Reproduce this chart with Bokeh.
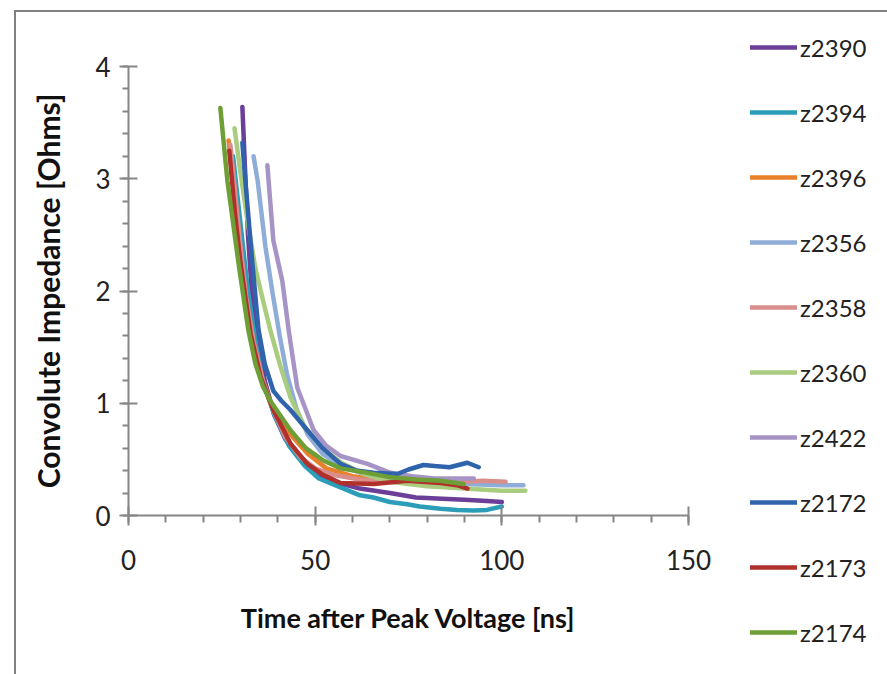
from bokeh.plotting import figure
from bokeh.models import Legend, LegendItem, SingleIntervalTicker, Range1d
from bokeh.layouts import row
from bokeh.embed import file_html
from bokeh.resources import INLINE

# ---- data ----
series_names = ["z2390", "z2394", "z2396", "z2356", "z2358",
                "z2360", "z2422", "z2172", "z2173", "z2174"]
series_colors = ["#6B3E98", "#2B9DB8", "#E8802C", "#8FADD9", "#D98E8C",
                 "#A9CC7E", "#A794C6", "#2F63AC", "#B0302C", "#6E9E36"]

x_z2390 = [30.5, 31.2, 32.0, 33.0, 34.5, 36.5, 39.0, 42.0, 46.0, 50.0, 55.0, 62.0, 70.0, 77.0, 84.0, 90.0, 96.0, 100.0]
y_z2390 = [3.64, 3.10, 2.50, 2.00, 1.60, 1.20, 0.90, 0.68, 0.50, 0.38, 0.30, 0.24, 0.20, 0.16, 0.15, 0.14, 0.13, 0.12]

x_z2394 = [28.0, 30.0, 32.0, 34.0, 36.0, 39.0, 43.0, 47.0, 51.0, 56.8, 62.0, 65.6, 70.0, 74.7, 78.0, 83.6, 88.0, 92.4, 96.0, 100.0]
y_z2394 = [3.20, 2.60, 2.00, 1.55, 1.20, 0.90, 0.62, 0.45, 0.33, 0.25, 0.18, 0.16, 0.12, 0.10, 0.08, 0.06, 0.05, 0.045, 0.05, 0.08]

x_z2396 = [26.8, 28.0, 29.5, 31.0, 33.0, 35.5, 38.0, 41.0, 44.0, 48.0, 53.0, 60.0, 70.0, 80.0, 90.0]
y_z2396 = [3.34, 3.00, 2.50, 2.00, 1.60, 1.25, 1.00, 0.82, 0.70, 0.55, 0.42, 0.35, 0.31, 0.30, 0.29]

x_z2356 = [33.5, 34.6, 36.7, 38.5, 40.5, 42.5, 45.0, 48.0, 52.0, 57.0, 63.0, 70.0, 80.0, 90.0, 100.0, 105.8]
y_z2356 = [3.20, 2.98, 2.39, 2.00, 1.60, 1.25, 0.95, 0.72, 0.55, 0.44, 0.37, 0.32, 0.29, 0.28, 0.27, 0.27]

x_z2358 = [27.3, 28.5, 30.0, 31.5, 33.5, 36.0, 39.0, 42.0, 46.0, 50.0, 55.0, 62.0, 70.0, 80.0, 90.0, 95.0, 101.0]
y_z2358 = [3.30, 2.90, 2.40, 1.95, 1.55, 1.20, 0.92, 0.70, 0.52, 0.42, 0.36, 0.32, 0.30, 0.29, 0.30, 0.31, 0.30]

x_z2360 = [28.4, 30.0, 32.0, 34.0, 36.0, 38.0, 40.5, 43.4, 47.0, 52.0, 57.0, 63.0, 70.0, 80.0, 90.0, 100.0, 106.3]
y_z2360 = [3.45, 3.05, 2.60, 2.20, 1.92, 1.65, 1.35, 1.05, 0.80, 0.60, 0.47, 0.37, 0.30, 0.26, 0.24, 0.22, 0.22]

x_z2422 = [37.2, 37.6, 38.8, 41.2, 42.9, 45.2, 49.6, 53.0, 56.8, 64.0, 70.2, 76.0, 82.0, 88.0, 92.5]
y_z2422 = [3.12, 2.95, 2.45, 2.09, 1.65, 1.14, 0.76, 0.62, 0.53, 0.46, 0.38, 0.35, 0.33, 0.33, 0.33]

x_z2172 = [30.5, 31.3, 33.2, 34.8, 36.5, 38.8, 41.0, 43.4, 47.9, 52.0, 56.8, 61.0, 65.6, 72.0, 75.0, 79.0, 82.0, 86.0, 90.8, 93.8]
y_z2172 = [3.32, 2.98, 2.24, 1.66, 1.35, 1.11, 1.02, 0.94, 0.76, 0.60, 0.46, 0.40, 0.38, 0.37, 0.41, 0.45, 0.44, 0.43, 0.47, 0.43]

x_z2173 = [27.0, 28.5, 30.0, 31.5, 32.7, 35.4, 38.8, 43.4, 47.9, 52.2, 56.8, 65.6, 74.7, 83.6, 88.0, 90.8]
y_z2173 = [3.25, 2.70, 2.25, 1.90, 1.62, 1.23, 0.94, 0.64, 0.46, 0.36, 0.29, 0.28, 0.31, 0.29, 0.27, 0.24]

x_z2174 = [24.6, 26.5, 29.5, 32.1, 34.0, 36.0, 38.0, 43.4, 47.5, 52.2, 56.8, 64.0, 70.2, 77.0, 83.6, 89.7]
y_z2174 = [3.63, 2.98, 2.24, 1.65, 1.35, 1.15, 1.02, 0.76, 0.60, 0.49, 0.42, 0.38, 0.34, 0.32, 0.31, 0.28]

series_x = [x_z2390, x_z2394, x_z2396, x_z2356, x_z2358, x_z2360, x_z2422, x_z2172, x_z2173, x_z2174]
series_y = [y_z2390, y_z2394, y_z2396, y_z2356, y_z2358, y_z2360, y_z2422, y_z2172, y_z2173, y_z2174]

x_title = "Time after Peak Voltage [ns]"
y_title = "Convolute Impedance [Ohms]"

FONT = "Lato"
AXIS_COLOR = "#868686"

p = figure(frame_width=560, frame_height=449, output_backend="svg", toolbar_location=None,
           x_range=Range1d(0, 150), y_range=Range1d(0, 4),
           min_border_left=112, min_border_right=0, min_border_top=54, min_border_bottom=159)
p.outline_line_color = None
p.grid.visible = False
p.background_fill_color = "white"
p.border_fill_color = "white"

p.xaxis.ticker = SingleIntervalTicker(interval=50, num_minor_ticks=5)
p.yaxis.ticker = SingleIntervalTicker(interval=1, num_minor_ticks=5)

for ax in (p.xaxis[0], p.yaxis[0]):
    ax.axis_line_color = AXIS_COLOR
    ax.axis_line_width = 2
    ax.major_tick_line_color = AXIS_COLOR
    ax.major_tick_line_width = 2
    ax.minor_tick_line_color = AXIS_COLOR
    ax.minor_tick_line_width = 2
    ax.major_label_text_font = FONT
    ax.major_label_text_font_size = "26px"
    ax.major_label_text_color = "#222222"
    ax.axis_label_text_font = FONT
    ax.axis_label_text_font_style = "bold"
    ax.axis_label_text_color = "#111111"

p.xaxis.major_tick_in = 9
p.xaxis.major_tick_out = 10
p.xaxis.minor_tick_in = 0
p.xaxis.minor_tick_out = 7
p.xaxis.major_label_standoff = 24
p.xaxis.axis_label = x_title
p.xaxis.axis_label_text_font_size = "27px"
p.xaxis.axis_label_standoff = 28

p.yaxis.major_tick_in = 9
p.yaxis.major_tick_out = 9
p.yaxis.minor_tick_in = 0
p.yaxis.minor_tick_out = 6
p.yaxis.major_label_standoff = 9
p.yaxis.axis_label = y_title
p.yaxis.axis_label_text_font_size = "30px"
p.yaxis.axis_label_standoff = 26

items = []
for name, color, xs, ys in zip(series_names, series_colors, series_x, series_y):
    r = p.line(xs, ys, line_color=color, line_width=4.5, line_join="round", line_cap="round")
    items.append(LegendItem(label=name, renderers=[r]))

legend = Legend(items=items, location=(62, -132), orientation="vertical",
                glyph_width=47, glyph_height=30, label_height=30, spacing=35,
                padding=0, margin=0, label_standoff=3,
                border_line_color=None, background_fill_alpha=0,
                label_text_font=FONT, label_text_font_size="24px",
                label_text_color="#222222")
p.add_layout(legend, "right")

layout = row(p, margin=(10, 0, 0, 14),
             styles={"border-left": "2px solid #808080", "border-top": "2px solid #808080",
                     "overflow": "hidden"})

html = file_html(layout, INLINE)
html = html.replace("<head>", "<head><style>html,body{overflow:hidden;margin:0;}</style>", 1)
open("out.html", "w").write(html)
